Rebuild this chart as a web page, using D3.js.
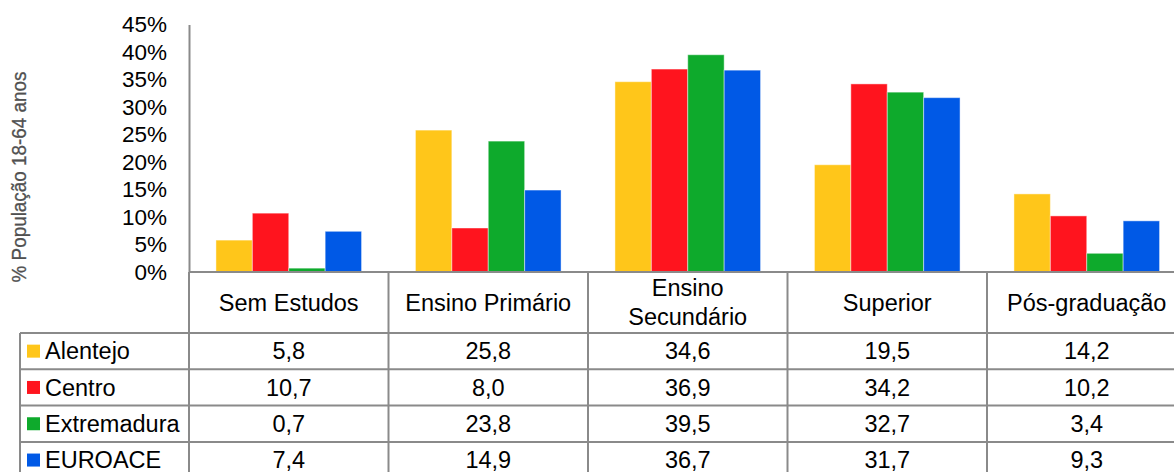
<!DOCTYPE html>
<html>
<head>
<meta charset="utf-8">
<script src="https://cdn.jsdelivr.net/npm/d3@7"></script>
<style>
  html, body { margin: 0; padding: 0; background: #fff; }
  svg { display: block; font-family: "Liberation Sans", Arial, sans-serif; }
</style>
</head>
<body>
<svg id="chart" width="1174" height="472"></svg>
<script>
// ---- data ----
const categories = ["Sem Estudos", "Ensino Primário", "Ensino Secundário", "Superior", "Pós-graduação"];
const seriesNames = ["Alentejo", "Centro", "Extremadura", "EUROACE"];
const alentejo    = [5.8, 25.8, 34.6, 19.5, 14.2];
const centro      = [10.7, 8.0, 36.9, 34.2, 10.2];
const extremadura = [0.7, 23.8, 39.5, 32.7, 3.4];
const euroace     = [7.4, 14.9, 36.7, 31.7, 9.3];
const yTicks = [0, 5, 10, 15, 20, 25, 30, 35, 40, 45];
const yTitle = "% População 18-64 anos";
const colors = ["#FFC61A", "#FF141E", "#0EAA2C", "#0059E6"];

const seriesValues = [alentejo, centro, extremadura, euroace];

// ---- layout ----
const plotLeft = 189, plotRight = 1186.5, plotTop = 24.5, plotBottom = 272;
const headerBottom = 333, rowH = 36.3, legendLeft = 20;
const lineColor = "#8a8a8a";

const svg = d3.select("#chart");

const x0 = d3.scaleBand().domain(categories).range([plotLeft, plotRight]).paddingInner(0).paddingOuter(0);
const x1 = d3.scaleBand().domain(seriesNames).range([0, x0.bandwidth()]).paddingInner(0).paddingOuter(0.74);
const y = d3.scaleLinear().domain([0, 45]).range([plotBottom, plotTop]);

// bars
const barData = [];
seriesNames.forEach((s, si) => {
  categories.forEach((c, ci) => barData.push({ s, si, c, v: seriesValues[si][ci] }));
});
svg.append("g").selectAll("rect").data(barData).join("rect")
  .attr("x", d => x0(d.c) + x1(d.s))
  .attr("y", d => y(d.v))
  .attr("width", x1.bandwidth())
  .attr("height", d => plotBottom - y(d.v))
  .attr("fill", d => colors[d.si])
  .attr("stroke", "rgba(255,255,255,0.45)")
  .attr("stroke-width", 1);

// y axis
const yAxis = d3.axisLeft(y).tickValues(yTicks).tickSize(0).tickPadding(22).tickFormat(d => d + "%");
const gy = svg.append("g").attr("transform", `translate(${plotLeft},0)`).call(yAxis);
gy.select(".domain").attr("stroke", lineColor).attr("stroke-width", 2);
gy.selectAll("text").attr("font-size", 22.5).attr("fill", "#000")
  .attr("font-family", "Liberation Sans, Arial, sans-serif");

// y title
svg.append("text")
  .attr("transform", `translate(26,177) rotate(-90)`)
  .attr("text-anchor", "middle")
  .attr("font-size", 21)
  .attr("fill", "#505050")
  .attr("stroke", "#505050")
  .attr("stroke-width", 0.3)
  .attr("textLength", 211)
  .attr("lengthAdjust", "spacingAndGlyphs")
  .text(yTitle);

// ---- data table ----
const nRows = seriesNames.length;
const tableBottom = headerBottom + rowH * nRows;
const grid = svg.append("g").attr("stroke", lineColor).attr("stroke-width", 2);

// horizontal axis line (top of header)
grid.append("line").attr("x1", plotLeft).attr("x2", 1174).attr("y1", plotBottom).attr("y2", plotBottom);
// row lines
d3.range(nRows).forEach(i => {
  const yy = headerBottom + i * rowH;
  grid.append("line").attr("x1", legendLeft).attr("x2", 1174).attr("y1", yy).attr("y2", yy);
});
grid.append("line").attr("x1", legendLeft).attr("x2", 1174).attr("y1", tableBottom).attr("y2", tableBottom);
// verticals
grid.append("line").attr("x1", legendLeft).attr("x2", legendLeft).attr("y1", headerBottom).attr("y2", tableBottom);
categories.forEach(c => {
  grid.append("line").attr("x1", x0(c)).attr("x2", x0(c)).attr("y1", plotBottom).attr("y2", tableBottom);
});
grid.append("line").attr("x1", plotRight).attr("x2", plotRight).attr("y1", plotBottom).attr("y2", tableBottom);

// header labels (wrap if too wide)
const hdr = svg.append("g").attr("font-size", 23.5).attr("fill", "#000").attr("text-anchor", "middle");
categories.forEach(c => {
  const cx = x0(c) + x0.bandwidth() / 2;
  const cy = (plotBottom + headerBottom) / 2;
  const t = hdr.append("text").attr("x", cx).attr("y", cy).attr("dy", "0.35em").text(c);
  if (t.node().getComputedTextLength() > x0.bandwidth() - 12) {
    const words = c.split(" ");
    t.text(null);
    const lh = 28.5;
    words.forEach((w, i) => {
      t.append("tspan").attr("x", cx)
        .attr("y", cy + (i - (words.length - 1) / 2) * lh)
        .attr("dy", "0.35em").text(w);
    });
  }
});

// rows
const fmt = v => d3.format(".1f")(v).replace(".", ",");
seriesNames.forEach((s, si) => {
  const cy = headerBottom + si * rowH + rowH / 2;
  svg.append("rect").attr("x", 27).attr("y", cy - 6.5).attr("width", 13).attr("height", 13).attr("fill", colors[si]);
  svg.append("text").attr("x", 45).attr("y", cy).attr("dy", "0.35em")
    .attr("font-size", 23.5).attr("fill", "#000").text(s);
  categories.forEach((c, ci) => {
    svg.append("text").attr("x", x0(c) + x0.bandwidth() / 2).attr("y", cy).attr("dy", "0.35em")
      .attr("text-anchor", "middle").attr("font-size", 23.5).attr("fill", "#000")
      .text(fmt(seriesValues[si][ci]));
  });
});
</script>
</body>
</html>
